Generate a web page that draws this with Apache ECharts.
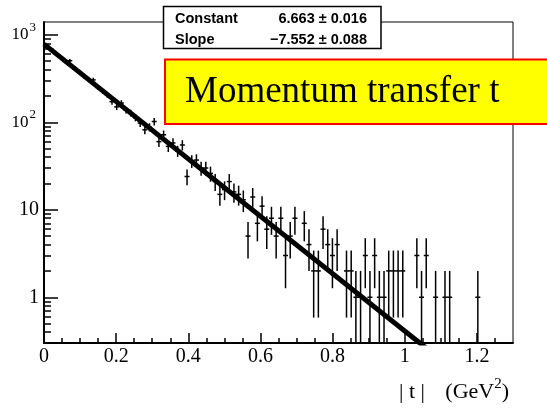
<!DOCTYPE html>
<html><head><meta charset="utf-8">
<script src="https://cdn.jsdelivr.net/npm/echarts@6/dist/echarts.min.js"></script>
<style>html,body{margin:0;padding:0;background:#fff}#c{width:547px;height:409px}</style>
</head><body><div id="c"></div>
<script>
// Histogram: 100 bins over |t| in [0, 1.3]
const binLow = 0, binHigh = 1.3, nBins = 100;
const counts = [
  755, 690, 600, 560, 495, 505, 410, 380, 335, 312,
  305, 250, 226, 205, 172, 150, 166, 138, 128, 113,
  98, 82, 88, 102, 60, 72, 53, 58, 47, 55,
  24, 36, 37, 30, 30, 26, 21, 15, 17, 21,
  16, 15, 13, 5, 14, 7, 11, 6, 8, 5,
  8, 3, 5, 8, 0, 7, 4, 2, 2, 6,
  4, 3, 4, 0, 2, 2, 1, 1, 3, 1,
  3, 1, 1, 2, 2, 2, 2, 0, 0, 3,
  1, 3, 0, 1, 0, 1, 1, 0, 0, 0,
  0, 0, 1, 0, 0, 0, 0, 0, 0, 0
];
// Fit parameters (expo): exp(Constant + Slope*t)
const fitConstant = 6.663, fitConstantErr = 0.016;
const fitSlope = -7.552, fitSlopeErr = 0.088;
const xMajorTicks = [0, 0.2, 0.4, 0.6, 0.8, 1.0, 1.2];
const xMinorTicks = [0.05,0.1,0.15,0.25,0.3,0.35,0.45,0.5,0.55,0.65,0.7,0.75,0.85,0.9,0.95,1.05,1.1,1.15,1.25];
const yMajorTicks = [1, 10, 100, 1000];
const yMinorTicks = [0.3,0.4,0.5,0.6,0.7,0.8,0.9,2,3,4,5,6,7,8,9,20,30,40,50,60,70,80,90,200,300,400,500,600,700,800,900];
const yMin = 0.3, yMax = 1400;

const binWidth = (binHigh - binLow) / nBins;
const points = [];
counts.forEach((n, i) => {
  if (n <= 0) return;
  const x = binLow + (i + 0.5) * binWidth;
  const e = Math.sqrt(n);
  points.push([x, n, Math.max(n - e, yMin * 0.3), n + e]);
});
const fitLine = [
  [binLow, Math.exp(fitConstant + fitSlope * binLow)],
  [binHigh, Math.exp(fitConstant + fitSlope * binHigh)]
];

const serif = 'Liberation Serif';
const chart = echarts.init(document.getElementById('c'));
chart.setOption({
  animation: false,
  grid: {left: 44, right: 34, top: 22, bottom: 66, show: true, borderColor: '#000', borderWidth: 1, backgroundColor: 'transparent'},
  xAxis: [{
    type: 'value', min: binLow, max: binHigh, position: 'bottom',
    axisLine: {show: true, lineStyle: {color: '#000', width: 2}},
    axisTick: {show: true, inside: true, length: 10, customValues: xMajorTicks, lineStyle: {color: '#000', width: 1.5}},
    axisLabel: {show: true, customValues: xMajorTicks, margin: 4, color: '#000', fontFamily: serif, fontSize: 20,
      formatter: v => String(+(+v).toFixed(1))},
    splitLine: {show: false}
  }, {
    type: 'value', min: binLow, max: binHigh, position: 'bottom',
    axisLine: {show: false},
    axisTick: {show: true, inside: true, length: 5, customValues: xMinorTicks, lineStyle: {color: '#000', width: 1.5}},
    axisLabel: {show: false},
    splitLine: {show: false}
  }],
  yAxis: [{
    type: 'log', logBase: 10, min: yMin, max: yMax, position: 'left',
    axisLine: {show: true, lineStyle: {color: '#000', width: 2}},
    axisTick: {show: true, inside: true, length: 14, customValues: yMajorTicks, lineStyle: {color: '#000', width: 1.5}},
    axisLabel: {show: true, customValues: yMajorTicks, margin: 5, color: '#000', fontFamily: serif, fontSize: 20,
      formatter: v => {
        const p = Math.round(Math.log10(v));
        if (p <= 1) return String(Math.round(v));
        return '{b|10}{s|' + p + '}';
      },
      rich: {
        b: {fontFamily: serif, fontSize: 17, color: '#000', lineHeight: 28, verticalAlign: 'middle'},
        s: {fontFamily: serif, fontSize: 13, color: '#000', lineHeight: 12, verticalAlign: 'top', padding: [0, 3, 0, 1]}
      }
    },
    splitLine: {show: false}
  }, {
    type: 'log', logBase: 10, min: yMin, max: yMax, position: 'left',
    axisLine: {show: false},
    axisTick: {show: true, inside: true, length: 7, customValues: yMinorTicks, lineStyle: {color: '#000', width: 1.5}},
    axisLabel: {show: false},
    splitLine: {show: false}
  }],
  series: [{
    type: 'custom', xAxisIndex: 0, yAxisIndex: 0, clip: true, z: 3,
    data: points,
    renderItem: function (params, api) {
      const x = api.value(0), y = api.value(1), lo = api.value(2), hi = api.value(3);
      const p = api.coord([x, y]);
      const pl = api.coord([x, lo]);
      const ph = api.coord([x, hi]);
      return {type: 'group', children: [
        {type: 'line', shape: {x1: p[0], y1: pl[1], x2: p[0], y2: ph[1]}, style: {stroke: '#000', lineWidth: 1.5}},
        {type: 'line', shape: {x1: p[0] - 2.5, y1: p[1], x2: p[0] + 2.5, y2: p[1]}, style: {stroke: '#000', lineWidth: 1.5}}
      ]};
    }
  }, {
    type: 'line', xAxisIndex: 0, yAxisIndex: 0, data: fitLine, showSymbol: false, symbol: 'none', clip: true, z: 4,
    lineStyle: {color: '#000', width: 5}
  }],
  graphic: [
    {type: 'rect', z: 100, shape: {x: 163.5, y: 6.5, width: 217.5, height: 42}, style: {fill: '#fff', stroke: '#000', lineWidth: 1.5}},
    {type: 'text', z: 101, style: {x: 175, y: 19, text: 'Constant', font: 'bold 14.5px "Liberation Sans"', fill: '#000', verticalAlign: 'middle', align: 'left'}},
    {type: 'text', z: 101, style: {x: 367, y: 19, text: fitConstant.toFixed(3) + ' \u00b1 ' + fitConstantErr.toFixed(3), font: 'bold 14.5px "Liberation Sans"', fill: '#000', verticalAlign: 'middle', align: 'right'}},
    {type: 'text', z: 101, style: {x: 175, y: 39.5, text: 'Slope', font: 'bold 14.5px "Liberation Sans"', fill: '#000', verticalAlign: 'middle', align: 'left'}},
    {type: 'text', z: 101, style: {x: 367, y: 39.5, text: '\u2212' + Math.abs(fitSlope).toFixed(3) + ' \u00b1 ' + fitSlopeErr.toFixed(3), font: 'bold 14.5px "Liberation Sans"', fill: '#000', verticalAlign: 'middle', align: 'right'}},
    {type: 'rect', z: 100, shape: {x: 165, y: 59.5, width: 420, height: 64.5}, style: {fill: '#ffff00', stroke: '#ff0000', lineWidth: 2}},
    {type: 'text', z: 101, style: {x: 185, y: 92, text: 'Momentum transfer t', font: '37px "Liberation Serif"', fill: '#000', verticalAlign: 'middle', align: 'left'}},
    {type: 'text', z: 101, style: {x: 399, y: 392, text: '| t |', font: '22px "Liberation Serif"', fill: '#000', verticalAlign: 'middle', align: 'left'}},
    {type: 'text', z: 101, style: {x: 509, y: 392, text: '{b|(GeV}{s|2}{b|)}', fill: '#000', verticalAlign: 'middle', align: 'right',
      rich: {
        b: {fontFamily: serif, fontSize: 22, fill: '#000', lineHeight: 30, verticalAlign: 'middle'},
        s: {fontFamily: serif, fontSize: 15, fill: '#000', lineHeight: 14, verticalAlign: 'top'}
      }}}
  ]
});
</script>
</body></html>
